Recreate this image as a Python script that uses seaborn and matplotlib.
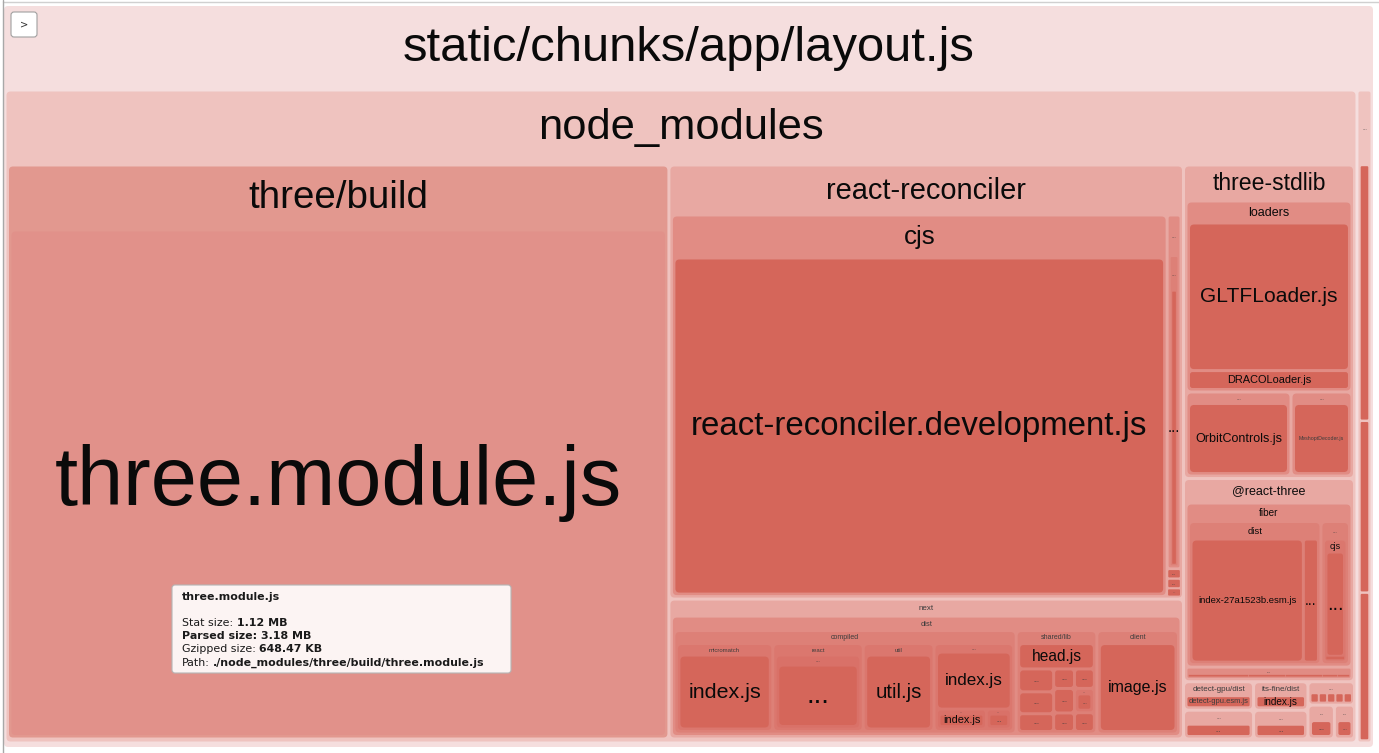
"""
Bundle treemap of static/chunks/app/layout.js, drawn the way
webpack-bundle-analyzer shows it (nested boxes, hover tooltip).

Usage:
    python plot.py
"""

import matplotlib

matplotlib.use("Agg")
import matplotlib.pyplot as plt
import pandas as pd
import seaborn as sns
from matplotlib.patches import FancyBboxPatch

# ---------------------------------------------------------------------------
# data: (id, label, parent, parsed size KB); groups carry 0, size = sum of kids
# ---------------------------------------------------------------------------
ROOT_ROWS = [
    ("root", "static/chunks/app/layout.js", "", 0),
    ("nm", "node_modules", "root", 0),
    ("ot", "...", "root", 0),
    ("ot1", "...", "ot", 32.0),
    ("ot2", "...", "ot", 21.5),
    ("ot3", "...", "ot", 18.5),
]

THREE_BUILD_ROWS = [
    ("tb", "three/build", "nm", 0),
    ("tmj", "three.module.js", "tb", 3180.0),
]

REACT_RECONCILER_ROWS = [
    ("rr", "react-reconciler", "nm", 0),
    ("rr_cjs", "cjs", "rr", 0),
    ("rr_dev", "react-reconciler.development.js", "rr_cjs", 1820.0),
    ("rr_g1", "...", "rr", 0),
    ("rr_g2", "...", "rr_g1", 0),
    ("rr_l1", "...", "rr_g2", 47.3),
    ("rr_l2", "...", "rr", 1.3),
    ("rr_l3", "...", "rr", 1.3),
    ("rr_l4", "...", "rr", 1.1),
]

NEXT_ROWS = [
    ("nx", "next", "nm", 0),
    ("nx_dist", "dist", "nx", 0),
    ("nx_comp", "compiled", "nx_dist", 0),
    ("mm", "micromatch", "nx_comp", 0),
    ("mm_idx", "index.js", "mm", 116.9),
    ("re", "react", "nx_comp", 0),
    ("re_g", "...", "re", 0),
    ("re_l", "...", "re_g", 109.7),
    ("ut", "util", "nx_comp", 0),
    ("ut_l", "util.js", "ut", 85.9),
    ("cd", "...", "nx_comp", 0),
    ("cd_idx", "index.js", "cd", 71.6),
    ("cd_g1", "...", "cd", 0),
    ("cd_g1l", "index.js", "cd_g1", 16.7),
    ("cd_g2", "...", "cd", 0),
    ("cd_g2l", "...", "cd_g2", 8.3),
    ("sl", "shared/lib", "nx_dist", 0),
    ("sl_head", "head.js", "sl", 27.8),
    ("sl_a1", "...", "sl", 11.6),
    ("sl_a2", "...", "sl", 11.1),
    ("sl_a3", "...", "sl", 9.0),
    ("sl_b1", "...", "sl", 5.9),
    ("sl_b2", "...", "sl", 7.4),
    ("sl_b3", "...", "sl", 5.6),
    ("sl_c1", "...", "sl", 5.6),
    ("sl_c2", "...", "sl", 0),
    ("sl_c2l", "...", "sl_c2", 7.0),
    ("sl_c3", "...", "sl", 5.4),
    ("cl", "client", "nx_dist", 0),
    ("cl_img", "image.js", "cl", 97.6),
]

THREE_STDLIB_ROWS = [
    ("ts", "three-stdlib", "nm", 0),
    ("ld", "loaders", "ts", 0),
    ("gltf", "GLTFLoader.js", "ld", 276.4),
    ("draco", "DRACOLoader.js", "ld", 35.4),
    ("ts_g1", "...", "ts", 0),
    ("orbit", "OrbitControls.js", "ts_g1", 86.8),
    ("ts_g2", "...", "ts", 0),
    ("mesh", "MeshoptDecoder.js", "ts_g2", 50.4),
]

REACT_THREE_ROWS = [
    ("r3", "@react-three", "nm", 0),
    ("fb", "fiber", "r3", 0),
    ("fb_dist", "dist", "fb", 0),
    ("fb_idx", "index-27a1523b.esm.js", "fb_dist", 196.6),
    ("fb_dl", "...", "fb_dist", 26.4),
    ("fb_g", "...", "fb", 0),
    ("fb_cjs", "cjs", "fb_g", 0),
    ("fb_cl", "...", "fb_cjs", 46.5),
    ("fb_ct", "...", "fb_cjs", 1.5),
    ("r3_s", "...", "r3", 0),
    ("r3_s1", "...", "r3_s", 7.45),
    ("r3_s2", "...", "r3_s", 4.6),
    ("r3_s3", "...", "r3_s", 4.6),
    ("r3_s4", "...", "r3_s", 1.86),
    ("r3_s5", "...", "r3_s", 1.49),
]

SMALL_PKG_ROWS = [
    ("dg", "detect-gpu/dist", "nm", 0),
    ("dg_l", "detect-gpu.esm.js", "dg", 16.7),
    ("dga", "...", "nm", 0),
    ("dga_l", "...", "dga", 16.9),
    ("itf", "its-fine/dist", "nm", 0),
    ("itf_l", "index.js", "itf", 13.0),
    ("itfa", "...", "nm", 0),
    ("itfa_l", "...", "itfa", 13.1),
    ("xc", "...", "nm", 0),
    ("xc1", "...", "xc", 1.82),
    ("xc2", "...", "xc", 1.82),
    ("xc3", "...", "xc", 1.82),
    ("xc4", "...", "xc", 1.82),
    ("xc5", "...", "xc", 1.82),
    ("xd", "...", "nm", 0),
    ("xd_l", "...", "xd", 7.5),
    ("xe", "...", "nm", 0),
    ("xe_l", "...", "xe", 5.7),
]

TOOLTIP_TITLE = "three.module.js"
TOOLTIP_STAT = "1.12 MB"
TOOLTIP_PARSED = "3.18 MB"
TOOLTIP_GZIP = "648.47 KB"
TOOLTIP_PATH = "./node_modules/three/build/three.module.js"

# ---------------------------------------------------------------------------
# layout: how each group's children are sliced ("h" = side by side)
# ---------------------------------------------------------------------------
ARRANGE = {
    "root": "h",
    "nm": ("h", [
        "tb",
        ("v", ["rr", "nx"]),
        ("v", ["ts", "r3", ("h", [
            ("v", ["dg", "dga"]),
            ("v", ["itf", "itfa"]),
            ("v", ["xc", ("h", ["xd", "xe"])]),
        ])]),
    ]),
    "rr": ("h", ["rr_cjs", ("v", ["rr_g1", "rr_l2", "rr_l3", "rr_l4"])]),
    "nx_dist": "h",
    "nx_comp": "h",
    "cd": ("v", ["cd_idx", ("h", ["cd_g1", "cd_g2"])]),
    "sl": ("v", ["sl_head", ("h", [
        ("v", ["sl_a1", "sl_a2", "sl_a3"]),
        ("v", ["sl_b1", "sl_b2", "sl_b3"]),
        ("v", ["sl_c1", "sl_c2", "sl_c3"]),
    ])]),
    "ts": ("v", ["ld", ("h", ["ts_g1", "ts_g2"])]),
    "fb": "h",
    "fb_dist": "h",
    "r3_s": "h",
    "xc": "h",
}

# group header: (font px, band height px)
HEADER_STYLE = {
    "root": (49, 84), "nm": (43.5, 73.5), "tb": (38.5, 63.5), "ot": (6, 73.5),
    "rr": (29, 48.5), "rr_cjs": (26, 41.5), "rr_g1": (6, 39.5), "rr_g2": (6, 34),
    "nx": (8, 15.5), "nx_dist": (7.5, 13), "nx_comp": (7, 11.5),
    "mm": (6, 10), "re": (6, 10), "ut": (6, 10), "re_g": (6, 8.5),
    "cd": (6, 7), "cd_g1": (4, 3.5), "cd_g2": (4, 3.5),
    "sl": (7, 11.5), "cl": (7, 11.5), "sl_c2": (4, 4),
    "ts": (23, 34.5), "ld": (12.5, 20.5), "ts_g1": (6, 10), "ts_g2": (6, 10),
    "r3": (12.5, 23), "fb": (10, 17), "fb_dist": (9.5, 16), "fb_g": (6, 16),
    "fb_cjs": (9, 11.5), "r3_s": (5, 6),
    "dg": (8, 12.5), "dga": (6, 12.5), "itf": (8, 12.5), "itfa": (6, 12.5),
    "xc": (6, 10), "xd": (5, 14), "xe": (5, 14),
}
# extra bottom padding (px) inside a group
BOTTOM_PAD = {"root": 3.0, "nm": 1.5}

LEAF_FS = {
    "tmj": 83, "rr_dev": 33, "rr_l1": 15, "mm_idx": 21.5, "re_l": 28,
    "ut_l": 20.5, "cd_idx": 17, "cd_g1l": 11, "sl_head": 15.5, "cl_img": 16,
    "gltf": 21, "draco": 11, "orbit": 12.5, "mesh": 5.2, "fb_idx": 9.5,
    "fb_dl": 14, "fb_cl": 20, "dg_l": 7.5, "itf_l": 10,
}

DEPTH_COLORS = sns.color_palette(
    ["#F5DEDE", "#EFC3BF", "#E8A8A2", "#E18C84", "#DD8077", "#DB776E", "#D97168"]
)
LEAF_COLOR = "#D5665A"
HOVER_COLORS = {"tb": "#E2988F", "tmj": "#E1918A"}
TEXT_COLOR = "#0A0A0A"

W_PX, H_PX = 1379, 753
PX2PT = 0.72  # at dpi 100
GAP = 1.5
PAD = 1.0

sns.set_theme(style="white")
plt.rcParams["font.family"] = ["Liberation Sans", "DejaVu Sans"]

nodes = pd.DataFrame(
    ROOT_ROWS + THREE_BUILD_ROWS + REACT_RECONCILER_ROWS + NEXT_ROWS
    + THREE_STDLIB_ROWS + REACT_THREE_ROWS + SMALL_PKG_ROWS,
    columns=["id", "label", "parent", "size"],
)
labels = dict(zip(nodes["id"], nodes["label"]))
children = {}
for nid, parent in zip(nodes["id"], nodes["parent"]):
    children.setdefault(parent, []).append(nid)
own_size = dict(zip(nodes["id"], nodes["size"]))
totals = {}


def total_of(nid):
    if nid not in totals:
        totals[nid] = own_size[nid] + sum(total_of(k) for k in children.get(nid, []))
    return totals[nid]


def spec_weight(spec):
    if isinstance(spec, str):
        return total_of(spec)
    return sum(spec_weight(s) for s in spec[1])


def split(spec, rect, out):
    if isinstance(spec, str):
        out[spec] = rect
        return
    direction, items = spec
    x0, y0, x1, y1 = rect
    whole = spec_weight(spec)
    pos = x0 if direction == "h" else y0
    span = (x1 - x0) if direction == "h" else (y1 - y0)
    for item in items:
        step = span * spec_weight(item) / whole
        if direction == "h":
            split(item, (pos, y0, pos + step, y1), out)
        else:
            split(item, (x0, pos, x1, pos + step), out)
        pos += step


def inset(rect, g):
    x0, y0, x1, y1 = rect
    g = min(g, 0.12 * min(x1 - x0, y1 - y0))
    return x0 + g, y0 + g, x1 - g, y1 - g


def put_label(ax, text, x, y, fs_px):
    if fs_px < 3.5:
        return
    color = TEXT_COLOR if fs_px >= 9 else "#3C3C3C"
    ax.text(x, y, text, ha="center", va="center", fontsize=fs_px * PX2PT,
            color=color, zorder=100)


def draw_node(ax, nid, slot, depth):
    x0, y0, x1, y1 = inset(slot, GAP)
    w, h = x1 - x0, y1 - y0
    kids = children.get(nid, [])
    if nid in HOVER_COLORS:
        color = HOVER_COLORS[nid]
    elif kids:
        color = DEPTH_COLORS[min(depth, len(DEPTH_COLORS) - 1)]
    else:
        color = LEAF_COLOR
    r = min(4.0, 0.15 * min(w, h))
    ax.add_patch(FancyBboxPatch(
        (x0, y0), w, h, boxstyle=f"round,pad=0,rounding_size={r}",
        fc=color, ec="none", zorder=depth + 1,
    ))
    if kids:
        fs, hh = HEADER_STYLE.get(nid, (6, 10))
        hh = min(hh, h)
        put_label(ax, labels[nid], (x0 + x1) / 2, y0 + hh / 2, fs)
        spec = ARRANGE.get(nid, "v")
        if isinstance(spec, str):
            spec = (spec, kids)
        slots = {}
        bottom = PAD + BOTTOM_PAD.get(nid, 0.0)
        split(spec, (x0 + PAD, y0 + hh, x1 - PAD, y1 - bottom), slots)
        for k in kids:
            draw_node(ax, k, slots[k], depth + 1)
    else:
        fs = LEAF_FS.get(nid)
        if fs is None:
            fs = min(7.0, (w - 2) / (0.56 * len(labels[nid])), (h - 1) * 0.8)
        put_label(ax, labels[nid], (x0 + x1) / 2, (y0 + y1) / 2, fs)


def draw_tooltip(ax, fig):
    ax.add_patch(FancyBboxPatch(
        (172, 585), 339, 88, boxstyle="round,pad=0,rounding_size=3",
        fc="#FCF4F3", ec="#B5B5B5", lw=0.8, zorder=200,
    ))
    renderer = fig.canvas.get_renderer()
    inv = ax.transData.inverted()
    fs = 11 * PX2PT
    lines = [
        (597, [(TOOLTIP_TITLE, True)]),
        (623, [("Stat size:", False), (TOOLTIP_STAT, True)]),
        (636, [(f"Parsed size: {TOOLTIP_PARSED}", True)]),
        (649.5, [("Gzipped size:", False), (TOOLTIP_GZIP, True)]),
        (663, [("Path:", False), (TOOLTIP_PATH, True)]),
    ]
    for y, parts in lines:
        x = 182
        for text, bold in parts:
            t = ax.text(x, y, text, ha="left", va="center", fontsize=fs,
                        family="DejaVu Sans", fontweight="bold" if bold else "normal",
                        color="#1A1A1A", zorder=201)
            bb = t.get_window_extent(renderer=renderer)
            x = inv.transform((bb.x1, bb.y0))[0] + 3.5


def main():
    fig = plt.figure(figsize=(W_PX / 100, H_PX / 100), dpi=100)
    ax = fig.add_axes([0, 0, 1, 1])
    ax.set_xlim(0, W_PX)
    ax.set_ylim(H_PX, 0)
    ax.set_axis_off()
    fig.patch.set_facecolor("white")

    # page frame
    ax.axhline(1.5, xmin=3 / W_PX, color="#D0D0D0", lw=1)
    ax.axvline(3, color="#A8A8A8", lw=1)

    total_of("root")
    draw_node(ax, "root", (2.5, 4.5, 1374.5, 748.5), 0)

    # sidebar toggle button
    ax.add_patch(FancyBboxPatch(
        (11, 12), 26, 25, boxstyle="round,pad=0,rounding_size=3",
        fc="white", ec="#A0A0A0", lw=0.8, zorder=150,
    ))
    ax.text(24, 24.5, ">", ha="center", va="center", fontsize=10 * PX2PT,
            family="DejaVu Sans", color="#333333", zorder=151)

    draw_tooltip(ax, fig)
    fig.savefig("out.png", dpi=100)
    plt.close(fig)


if __name__ == "__main__":
    main()
